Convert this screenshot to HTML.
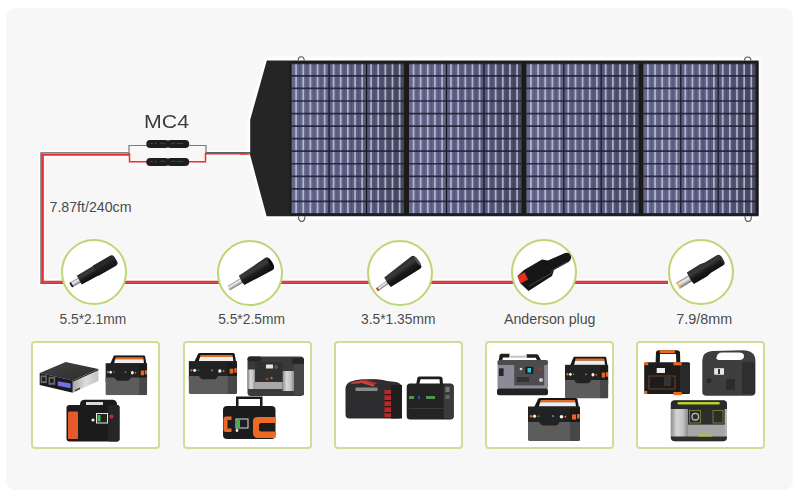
<!DOCTYPE html>
<html><head><meta charset="utf-8">
<style>
*{margin:0;padding:0;box-sizing:border-box}
html,body{width:800px;height:499px;overflow:hidden;background:#fff;font-family:"Liberation Sans",sans-serif}
#bg{position:absolute;left:6px;top:8px;width:787px;height:482px;border-radius:9px;background:#f7f7f7}
.abs{position:absolute}
.lbl{position:absolute;color:#4a4a4a;font-size:14px;white-space:nowrap;line-height:1;text-shadow:0 0 2px #fff}
.circ{position:absolute;width:66px;height:66px;border-radius:50%;border:2px solid #bcd674;background:#fff}
.box{position:absolute;width:129px;height:108px;border:2px solid #cddf97;border-radius:4px;background:#fff}

</style></head>
<body>
<div id="bg"></div>

<!-- wire -->
<svg class="abs" style="left:0;top:0" width="800" height="499" viewBox="0 0 800 499">
  <!-- main loop: dark outer, red inner -->
  <path d="M250 154 H206.5 M129 154 H42.3 V282.3 H668" fill="none" stroke="#fff" stroke-width="6.5" opacity=".75"/>
  <path d="M129 152.85 H41.05 V283.25 H668" fill="none" stroke="#5b6166" stroke-width="1.4"/>
  <path d="M129 154.75 H42.75 V281.75 H668" fill="none" stroke="#ee2d2d" stroke-width="2.2"/>
  <path d="M251 152.6 H205.5" fill="none" stroke="#5b6166" stroke-width="1.1"/>
  <path d="M251 153.85 H205.5" fill="none" stroke="#ee2d2d" stroke-width="1.5"/>
  <!-- split -->
  <path d="M129 153 V145.5 H147 M189 145.5 H206 V153" fill="none" stroke="#7b7b7b" stroke-width="1.2"/>
  <path d="M129.5 153 V161.8 H147 M189 161.8 H205.5 V153" fill="none" stroke="#ee2d2d" stroke-width="1.5"/>
  <!-- MC4 connectors -->
  <g fill="#1e1e1e">
    <path d="M150.2,140 H165.5 L168,140.5 L170.5,140 H185.3 Q189.2,140 189.2,144 Q189.2,148 185.3,148 H170.5 L168,147.5 L165.5,148 H150.2 Q146.3,148 146.3,144 Q146.3,140 150.2,140Z"/>
    <path d="M150.2,158 H165.5 L168,158.5 L170.5,158 H185.3 Q189.2,158 189.2,162 Q189.2,166 185.3,166 H170.5 L168,165.5 L165.5,166 H150.2 Q146.3,166 146.3,162 Q146.3,158 150.2,158Z"/>
  </g>
  <g fill="none" stroke="#6a6a6a" stroke-width=".6" opacity=".8">
    <path d="M150,143.5 h3 M155,143.5 h2 M160,143.3 h5 M171,143.3 h4 M177,143.5 h6"/>
    <path d="M150,161.5 h3 M155,161.5 h2 M160,161.3 h5 M171,161.3 h4 M177,161.5 h6"/>
  </g>
</svg>

<div class="lbl" style="left:143.7px;top:112.5px;font-size:18px;color:#3c3c3c;transform:scaleX(1.185);transform-origin:0 0">MC4</div>
<div class="lbl" style="left:49.5px;top:200px;font-size:14.2px">7.87ft/240cm</div>

<!-- solar panel -->
<svg class="abs" style="left:0;top:0" width="800" height="499" viewBox="0 0 800 499">
  <defs><filter id="bl" x="-5%" y="-20%" width="110%" height="140%"><feGaussianBlur stdDeviation="1.2"/></filter></defs>
  <polygon points="265.5,57 760.5,57 760.5,219.5 265,219.5 247.5,155 247.5,119" fill="#fff" filter="url(#bl)"/>
  <path d="M240 152.6 H252" stroke="#5b6166" stroke-width="1.1"/>
  <path d="M240 153.85 H252" stroke="#ee2d2d" stroke-width="1.5"/>
  <polygon points="266.8,60.5 758.5,60.5 758.5,216.3 266.6,216.3 250.2,155.3 250.2,119.8" fill="#252525"/>
  <g fill="none" stroke="#555" stroke-width="1.1">
   <path d="M298.2,60.5 Q298.2,56.8 301.2,56.8 Q304.2,56.8 304.2,60.5"/>
   <path d="M744.5,60.5 Q744.5,57 747.7,57 Q750.9,57 750.9,60.5"/>
   <path d="M298.5,216.3 Q298.5,221.5 301.7,221.5 Q304.9,221.5 304.9,216.3"/>
   <path d="M745,216.3 Q745,221.5 748.2,221.5 Q751.4,221.5 751.4,216.3"/>
  </g>
  <rect x="289.5" y="61.5" width="469" height="154" fill="#1a1a1a"/>
</svg>


<svg class="abs" style="left:0;top:0" width="800" height="499" viewBox="0 0 800 499">
<defs><linearGradient id="pg" x1="0" y1="0" x2="1" y2="0"><stop offset="0" stop-color="#67698c"/><stop offset=".45" stop-color="#5f6184"/><stop offset=".75" stop-color="#555777"/><stop offset="1" stop-color="#46485d"/></linearGradient></defs>
<rect x="291.6" y="63.0" width="112.4" height="150.9" fill="url(#pg)"/>
<rect x="409" y="63.0" width="112.5" height="150.9" fill="url(#pg)"/>
<rect x="526.4" y="63.0" width="112.2" height="150.9" fill="url(#pg)"/>
<rect x="643.4" y="63.0" width="112.2" height="150.9" fill="url(#pg)"/>
<path d="M299.18 63.0h1V213.9h-1zM306.32 63.0h1V213.9h-1zM313.48 63.0h1V213.9h-1zM320.62 63.0h1V213.9h-1zM336.64 63.0h1V213.9h-1zM343.79 63.0h1V213.9h-1zM350.94 63.0h1V213.9h-1zM358.09 63.0h1V213.9h-1zM374.11 63.0h1V213.9h-1zM381.26 63.0h1V213.9h-1zM388.41 63.0h1V213.9h-1zM395.56 63.0h1V213.9h-1zM416.57 63.0h1V213.9h-1zM423.72 63.0h1V213.9h-1zM430.88 63.0h1V213.9h-1zM438.02 63.0h1V213.9h-1zM454.07 63.0h1V213.9h-1zM461.22 63.0h1V213.9h-1zM468.38 63.0h1V213.9h-1zM475.52 63.0h1V213.9h-1zM491.57 63.0h1V213.9h-1zM498.72 63.0h1V213.9h-1zM505.88 63.0h1V213.9h-1zM513.02 63.0h1V213.9h-1zM533.98 63.0h1V213.9h-1zM541.12 63.0h1V213.9h-1zM548.27 63.0h1V213.9h-1zM555.43 63.0h1V213.9h-1zM571.38 63.0h1V213.9h-1zM578.52 63.0h1V213.9h-1zM585.67 63.0h1V213.9h-1zM592.83 63.0h1V213.9h-1zM608.77 63.0h1V213.9h-1zM615.92 63.0h1V213.9h-1zM623.07 63.0h1V213.9h-1zM630.23 63.0h1V213.9h-1zM650.98 63.0h1V213.9h-1zM658.12 63.0h1V213.9h-1zM665.27 63.0h1V213.9h-1zM672.43 63.0h1V213.9h-1zM688.38 63.0h1V213.9h-1zM695.52 63.0h1V213.9h-1zM702.67 63.0h1V213.9h-1zM709.83 63.0h1V213.9h-1zM725.77 63.0h1V213.9h-1zM732.92 63.0h1V213.9h-1zM740.07 63.0h1V213.9h-1zM747.23 63.0h1V213.9h-1z" fill="#2a2b48" opacity=".25"/>
<path d="M295.25 63.0h1.7V213.9h-1.7zM302.40 63.0h1.7V213.9h-1.7zM309.55 63.0h1.7V213.9h-1.7zM316.70 63.0h1.7V213.9h-1.7zM323.85 63.0h1.7V213.9h-1.7zM332.72 63.0h1.7V213.9h-1.7zM339.87 63.0h1.7V213.9h-1.7zM347.02 63.0h1.7V213.9h-1.7zM354.17 63.0h1.7V213.9h-1.7zM361.32 63.0h1.7V213.9h-1.7zM370.18 63.0h1.7V213.9h-1.7zM377.33 63.0h1.7V213.9h-1.7zM384.48 63.0h1.7V213.9h-1.7zM391.63 63.0h1.7V213.9h-1.7zM398.78 63.0h1.7V213.9h-1.7zM412.65 63.0h1.7V213.9h-1.7zM419.80 63.0h1.7V213.9h-1.7zM426.95 63.0h1.7V213.9h-1.7zM434.10 63.0h1.7V213.9h-1.7zM441.25 63.0h1.7V213.9h-1.7zM450.15 63.0h1.7V213.9h-1.7zM457.30 63.0h1.7V213.9h-1.7zM464.45 63.0h1.7V213.9h-1.7zM471.60 63.0h1.7V213.9h-1.7zM478.75 63.0h1.7V213.9h-1.7zM487.65 63.0h1.7V213.9h-1.7zM494.80 63.0h1.7V213.9h-1.7zM501.95 63.0h1.7V213.9h-1.7zM509.10 63.0h1.7V213.9h-1.7zM516.25 63.0h1.7V213.9h-1.7zM530.05 63.0h1.7V213.9h-1.7zM537.20 63.0h1.7V213.9h-1.7zM544.35 63.0h1.7V213.9h-1.7zM551.50 63.0h1.7V213.9h-1.7zM558.65 63.0h1.7V213.9h-1.7zM567.45 63.0h1.7V213.9h-1.7zM574.60 63.0h1.7V213.9h-1.7zM581.75 63.0h1.7V213.9h-1.7zM588.90 63.0h1.7V213.9h-1.7zM596.05 63.0h1.7V213.9h-1.7zM604.85 63.0h1.7V213.9h-1.7zM612.00 63.0h1.7V213.9h-1.7zM619.15 63.0h1.7V213.9h-1.7zM626.30 63.0h1.7V213.9h-1.7zM633.45 63.0h1.7V213.9h-1.7zM647.05 63.0h1.7V213.9h-1.7zM654.20 63.0h1.7V213.9h-1.7zM661.35 63.0h1.7V213.9h-1.7zM668.50 63.0h1.7V213.9h-1.7zM675.65 63.0h1.7V213.9h-1.7zM684.45 63.0h1.7V213.9h-1.7zM691.60 63.0h1.7V213.9h-1.7zM698.75 63.0h1.7V213.9h-1.7zM705.90 63.0h1.7V213.9h-1.7zM713.05 63.0h1.7V213.9h-1.7zM721.85 63.0h1.7V213.9h-1.7zM729.00 63.0h1.7V213.9h-1.7zM736.15 63.0h1.7V213.9h-1.7zM743.30 63.0h1.7V213.9h-1.7zM750.45 63.0h1.7V213.9h-1.7z" fill="#c8cae6" opacity=".8"/>
<path d="M328.47 63.0h1.2V213.9h-1.2zM365.93 63.0h1.2V213.9h-1.2zM445.90 63.0h1.2V213.9h-1.2zM483.40 63.0h1.2V213.9h-1.2zM563.20 63.0h1.2V213.9h-1.2zM600.60 63.0h1.2V213.9h-1.2zM680.20 63.0h1.2V213.9h-1.2zM717.60 63.0h1.2V213.9h-1.2z" fill="#131420"/>
<path d="M291.6 62.50h112.4v1.7h-112.4zM291.6 75.05h112.4v1.7h-112.4zM291.6 87.60h112.4v1.7h-112.4zM291.6 100.15h112.4v1.7h-112.4zM291.6 112.70h112.4v1.7h-112.4zM291.6 125.25h112.4v1.7h-112.4zM291.6 137.80h112.4v1.7h-112.4zM291.6 150.35h112.4v1.7h-112.4zM291.6 162.90h112.4v1.7h-112.4zM291.6 175.45h112.4v1.7h-112.4zM291.6 188.00h112.4v1.7h-112.4zM291.6 200.55h112.4v1.7h-112.4zM291.6 213.10h112.4v1.7h-112.4zM409 62.50h112.5v1.7h-112.5zM409 75.05h112.5v1.7h-112.5zM409 87.60h112.5v1.7h-112.5zM409 100.15h112.5v1.7h-112.5zM409 112.70h112.5v1.7h-112.5zM409 125.25h112.5v1.7h-112.5zM409 137.80h112.5v1.7h-112.5zM409 150.35h112.5v1.7h-112.5zM409 162.90h112.5v1.7h-112.5zM409 175.45h112.5v1.7h-112.5zM409 188.00h112.5v1.7h-112.5zM409 200.55h112.5v1.7h-112.5zM409 213.10h112.5v1.7h-112.5zM526.4 62.50h112.2v1.7h-112.2zM526.4 75.05h112.2v1.7h-112.2zM526.4 87.60h112.2v1.7h-112.2zM526.4 100.15h112.2v1.7h-112.2zM526.4 112.70h112.2v1.7h-112.2zM526.4 125.25h112.2v1.7h-112.2zM526.4 137.80h112.2v1.7h-112.2zM526.4 150.35h112.2v1.7h-112.2zM526.4 162.90h112.2v1.7h-112.2zM526.4 175.45h112.2v1.7h-112.2zM526.4 188.00h112.2v1.7h-112.2zM526.4 200.55h112.2v1.7h-112.2zM526.4 213.10h112.2v1.7h-112.2zM643.4 62.50h112.2v1.7h-112.2zM643.4 75.05h112.2v1.7h-112.2zM643.4 87.60h112.2v1.7h-112.2zM643.4 100.15h112.2v1.7h-112.2zM643.4 112.70h112.2v1.7h-112.2zM643.4 125.25h112.2v1.7h-112.2zM643.4 137.80h112.2v1.7h-112.2zM643.4 150.35h112.2v1.7h-112.2zM643.4 162.90h112.2v1.7h-112.2zM643.4 175.45h112.2v1.7h-112.2zM643.4 188.00h112.2v1.7h-112.2zM643.4 200.55h112.2v1.7h-112.2zM643.4 213.10h112.2v1.7h-112.2z" fill="#1e1f34" opacity=".88"/>
</svg>

<!-- circles -->
<div class="circ" style="left:60.8px;top:239px"></div>
<div class="circ" style="left:217px;top:239.5px"></div>
<div class="circ" style="left:367px;top:239.5px"></div>
<div class="circ" style="left:510.5px;top:239px"></div>
<div class="circ" style="left:667.5px;top:239px"></div>


<!-- connectors -->
<svg class="abs" style="left:0;top:0" width="800" height="499" viewBox="0 0 800 499">
 <defs>
  <linearGradient id="metal" x1="0" y1="0" x2="0" y2="1">
   <stop offset="0" stop-color="#8a8a8a"/><stop offset=".35" stop-color="#f2f2f2"/><stop offset=".7" stop-color="#b5b5b5"/><stop offset="1" stop-color="#6a6a6a"/>
  </linearGradient>
  <linearGradient id="blk" x1="0" y1="0" x2="0" y2="1">
   <stop offset="0" stop-color="#2c2c2c"/><stop offset=".3" stop-color="#3a3a3a"/><stop offset=".6" stop-color="#1a1a1a"/><stop offset="1" stop-color="#0e0e0e"/>
  </linearGradient>
  <pattern id="ridge" width="3" height="20" patternUnits="userSpaceOnUse">
   <rect width="3" height="20" fill="#2a2a2a"/><rect width="1.3" height="20" fill="#0c0c0c"/>
  </pattern>
 </defs>
 <!-- c1 -->
 <g transform="translate(70.6,285.2) rotate(-30)">
  <rect x="1.2" y="-2.7" width="10" height="5.4" fill="url(#metal)"/>
  <rect x="0" y="-2.7" width="1.8" height="5.4" rx=".8" fill="#151515"/>
  <path d="M10 -5 L30 -5.5 L30 5.5 L10 5 Z" fill="url(#blk)"/>
  <path d="M29 -5.8 H49 Q52 -5.8 52 -2.5 V2.5 Q52 5.8 49 5.8 H29 Z" fill="url(#ridge)"/>
  <path d="M29 -5.8 H49 Q52 -5.8 52 -2.5 V2.5 Q52 5.8 49 5.8 H29 Z" fill="url(#blk)" opacity=".45"/>
 </g>
 <!-- c2 -->
 <g transform="translate(228.3,288.4) rotate(-31)">
  <rect x="0" y="-2.6" width="17" height="5.2" rx="1.5" fill="url(#metal)"/>
  <path d="M15.5 -5.3 L47.5 -7.2 Q50.5 -7.2 50.5 -3.5 V3.5 Q50.5 7.2 47.5 7.2 L15.5 5.3 Q14.5 0 15.5 -5.3Z" fill="url(#blk)"/>
  <ellipse cx="49.6" cy="0" rx="1.5" ry="5.2" fill="#080808"/>
 </g>
 <!-- c3 -->
 <g transform="translate(376.9,289.8) rotate(-35)">
  <rect x="0" y="-1.8" width="14" height="3.6" fill="url(#metal)"/>
  <rect x="0" y="-1.8" width="1.6" height="3.6" fill="#c0302a"/>
  <path d="M13 -5.8 L47.5 -7.6 Q50.5 -7.6 50.5 -3.5 V3.5 Q50.5 7.6 47.5 7.6 L13 5.8 Q12 0 13 -5.8Z" fill="url(#blk)"/>
  <ellipse cx="49.8" cy="0" rx="1.3" ry="5.4" fill="#555"/>
 </g>
 <!-- c4 anderson -->
 <path d="M520.5,283.5 L517.5,276 L524,270 L542,259.5 L548,260.5 L565,253 Q569.5,251.5 571,256.5 Q571.5,260.5 568.5,262 L554,270 L552,276 L528.5,291 Z" fill="#161616"/>
 <path d="M529,286 L551,273.5 L552.5,270 L567,262" fill="none" stroke="#555" stroke-width=".9" opacity=".8"/>
 <path d="M517.5,276 L524.5,272.2 L528,279.5 L520.5,283.5 Z" fill="#e2321f"/>
 <!-- c5 -->
 <g transform="translate(677.9,285.7) rotate(-31)">
  <rect x="0" y="-3.5" width="16" height="7" fill="url(#metal)"/>
  <rect x="0" y="-3.5" width="1.6" height="7" fill="#e7c623"/>
  <path d="M14.5 -6.8 L30 -7 L35 -6 L49 -6 Q52 -6 52 -2.8 V2.8 Q52 6 49 6 L35 6 L30 7 L14.5 6.8 Q13.5 0 14.5 -6.8Z" fill="url(#blk)"/>
  <ellipse cx="51.2" cy="0" rx="1.2" ry="4.5" fill="#333"/>
 </g>
</svg>

<div class="lbl" style="left:59.5px;top:312.8px;font-size:13.8px">5.5*2.1mm</div>
<div class="lbl" style="left:218.2px;top:312.8px;font-size:13.8px">5.5*2.5mm</div>
<div class="lbl" style="left:361px;top:312.8px;font-size:13.8px">3.5*1.35mm</div>
<div class="lbl" style="left:504px;top:312.4px;font-size:14.2px">Anderson plug</div>
<div class="lbl" style="left:676.3px;top:312.2px;font-size:14.4px">7.9/8mm</div>

<!-- boxes -->
<div class="box" style="left:31px;top:340.5px"></div>
<div class="box" style="left:182.5px;top:341px"></div>
<div class="box" style="left:334px;top:341px"></div>
<div class="box" style="left:485px;top:341px"></div>
<div class="box" style="left:636px;top:340.5px"></div>


<!-- products -->
<svg class="abs" style="left:0;top:0" width="800" height="499" viewBox="0 0 800 499">
 <defs>
  <symbol id="st1" viewBox="0 0 52 43" preserveAspectRatio="none">
   <path d="M6,9.5 L10,1.2 Q10.6,0 12,0 H47.5 Q49,0 49.4,1.2 L51,9.5 Z" fill="#161616"/>
   <path d="M12.8,2 H47 L47.4,4.3 H12.2 Z" fill="#ea6a22"/>
   <path d="M12.2,4.3 H47.4 L48,8.6 H10.8 Z" fill="#eeeeee"/>
   <rect x="0" y="8.5" width="52" height="20" fill="#222"/>
   <path d="M0,24 H11 Q13,27.5 16,27.5 H27 Q30,27.5 31.5,24 H52 V41.5 Q52,43 50,43 H2 Q0,43 0,41.5 Z" fill="#5c5c5c"/>
   <rect x="42" y="10" width="10" height="33" fill="#000" opacity=".22"/>
   <circle cx="3" cy="18.2" r="1.2" fill="#e0702a"/>
   <circle cx="6.5" cy="18.2" r="1.6" fill="#f4f4f4"/>
   <circle cx="10.5" cy="18.2" r="1" fill="#3a8a3a"/>
   <circle cx="25" cy="18.2" r="1.1" fill="#3a8ad0"/>
   <circle cx="33.5" cy="18.8" r="1.8" fill="#f4f4f4"/>
   <circle cx="37.5" cy="18.8" r="1" fill="#e0702a"/>
   <rect x="44" y="16.5" width="4" height="5" fill="#e8642a"/>
   <rect x="49" y="16" width="2.6" height="4.6" fill="#e8642a"/>
  </symbol>
 </defs>
 <!-- Box1 A flat -->
 <defs><linearGradient id="b1top" x1="0" y1="0" x2="1" y2="1"><stop offset="0" stop-color="#454545"/><stop offset="1" stop-color="#2a2a2a"/></linearGradient>
 <linearGradient id="b1side" x1="0" y1="0" x2="1" y2="0"><stop offset="0" stop-color="#a8a8a8"/><stop offset=".5" stop-color="#dcdcdc"/><stop offset="1" stop-color="#c4c4c4"/></linearGradient></defs>
 <polygon points="39.7,373 65.7,361.9 98.4,369 72.8,380.5" fill="url(#b1top)"/>
 <polygon points="39.7,373 72.8,380.5 72.8,392.8 39.7,384.9" fill="#1a1a1a"/>
 <polygon points="72.8,380.5 98.4,369 98.4,381 72.8,392.8" fill="url(#b1side)"/>
 <polygon points="72.8,380.5 98.4,369 98.4,370.2 72.8,381.8" fill="#222"/>
 <rect x="40.6" y="375.4" width="6.2" height="7.7" fill="#6a6a6a"/><rect x="42" y="377.2" width="3.4" height="4" fill="#1e1e1e"/>
 <rect x="48.5" y="376.8" width="6.7" height="8" fill="#6a6a6a"/><rect x="50" y="378.6" width="3.6" height="4.2" fill="#1e1e1e"/>
 <polygon points="57.8,381.2 70.6,383.6 70.6,388.2 57.8,385.8" fill="#7272e6"/>
 <polygon points="75,390 80,387.6 80,389 75,391.5" fill="#333"/>
 <!-- Box1 B -->
 <use href="#st1" x="105.4" y="355.3" width="41.8" height="39.9"/>
 <!-- Box1 C -->
 <path d="M80,405 Q80,400 84,399.8 L113,399.8 Q117,400 117,405 Z" fill="#1a1a1a"/>
 <rect x="86" y="402" width="17" height="5" fill="#d8d8d8"/>
 <rect x="66.5" y="405" width="53" height="36.5" rx="3" fill="#1b1b1b"/>
 <rect x="108" y="405" width="11.5" height="36.5" rx="2" fill="#262626"/>
 <rect x="68" y="411.5" width="10" height="27.5" rx="1" fill="#e6592a"/>
 <rect x="96" y="413" width="12" height="10.5" fill="#e8e8e8"/>
 <rect x="97" y="414" width="10" height="8.5" fill="#222"/>
 <rect x="97.5" y="415" width="3" height="6.5" fill="#38c048"/>
 <circle cx="111.5" cy="416.5" r="2" fill="#d02040"/>
 <circle cx="93" cy="420" r="1.6" fill="#eee"/>
 <!-- Box2 A -->
 <use href="#st1" x="188.6" y="353" width="48.5" height="41"/>
 <!-- Box2 B -->
 <rect x="247.5" y="356.5" width="56.5" height="39.5" rx="3.5" fill="#3a3a3a"/>
 <rect x="247.5" y="356.5" width="14" height="5" rx="2" fill="#262626"/>
 <rect x="292" y="358" width="12" height="6" rx="2" fill="#262626"/>
 <defs><linearGradient id="silv" x1="0" y1="0" x2="1" y2="0"><stop offset="0" stop-color="#8e8e8e"/><stop offset=".35" stop-color="#d6d6d6"/><stop offset=".7" stop-color="#c4c4c4"/><stop offset="1" stop-color="#8a8a8a"/></linearGradient></defs>
 <rect x="248" y="369.5" width="7" height="19.5" fill="url(#silv)"/>
 <rect x="282.5" y="371" width="11.5" height="20" fill="url(#silv)"/>
 <rect x="255" y="382" width="27.5" height="7" fill="#a8a8a8"/>
 <rect x="255" y="362" width="27.5" height="20" fill="#303030"/>
 <rect x="266" y="364.5" width="7" height="4" fill="#e4e4e4"/>
 <circle cx="276" cy="367" r="2" fill="#555"/>
 <circle cx="267" cy="379" r="1.4" fill="#c03030"/><circle cx="271.5" cy="378" r="1.2" fill="#5a9a3a"/>
 <rect x="294" y="364" width="10" height="31" fill="#474747"/>
 <!-- Box2 C -->
 <path d="M236,410 V396.5 H262.5 V410 H260 V399 H238.5 V410 Z" fill="#1a1a1a"/>
 <rect x="223" y="406" width="52.5" height="33" rx="4" fill="#1c1c1c"/>
 <path d="M231.5,416.5 H226 Q223.5,416.5 223.5,419 V429.5 Q223.5,432 226,432 H231.5 V428.5 H227.5 V420 H231.5 Z" fill="#ec6a26"/>
 <path d="M275.5,417 H258 Q253,417 253,421 V433 Q253,438 258,438 H275.5 V431.5 H261 Q259,431.5 259,429.5 V425 Q259,423 261,423 H275.5 Z" fill="#ec6a26"/>
 <rect x="235.5" y="418.5" width="13" height="10" fill="#ddd"/>
 <rect x="236.5" y="419.5" width="11" height="8" fill="#1e1e1e"/>
 <rect x="237" y="420" width="3" height="7" fill="#30c040"/>
 <circle cx="237" cy="430.5" r="1.4" fill="#eee"/>
 <!-- Box3 A -->
 <path d="M345.5,388 Q346,383 351,381.5 Q356,379.5 362,379.5 L375,379.3 Q382,379.5 387,381 L396,382 Q401,383 402,387 V414.5 Q402,418.5 398,418.5 H349.5 Q345.5,418.5 345.5,414.5 Z" fill="#2d2d2f"/>
 <path d="M352,381.5 Q358,379.5 363,379.5 L376,379.4 Q383,379.6 388,381.5 L388,384 H352 Z" fill="#3a2a32"/>
 <path d="M350.5,384 L352,382 Q357,380.5 362,381 L360,383.5 Z" fill="#c23a36"/>
 <path d="M358,381.8 L362,380.2 L375,385 L373,386.4 Z" fill="#d04a3a"/>
 <path d="M361,381 L365,379.8 L377,383.2 L375,384.5 Z" fill="#b8343a"/>
 <rect x="391" y="385" width="11" height="33.5" fill="#1f1f20"/>
 <rect x="355.5" y="387.5" width="22" height="3.5" fill="#8a8a8a"/>
 <rect x="384.5" y="390" width="6.5" height="27" fill="#b82a2a"/>
 <rect x="384.5" y="394" width="6.5" height="1.3" fill="#3a1010"/><rect x="384.5" y="400" width="6.5" height="1.3" fill="#3a1010"/><rect x="384.5" y="406" width="6.5" height="1.3" fill="#3a1010"/><rect x="384.5" y="412" width="6.5" height="1.3" fill="#3a1010"/>
 <!-- Box3 B -->
 <path d="M416,385 L417.5,377.5 Q418,376.6 420,376.6 L440,376.4 Q442,376.5 442.5,378 L443,385 H440 L439.5,379.3 H420.5 L419,385 Z" fill="#1c1c1c"/>
 <rect x="406.7" y="383.5" width="47" height="36" rx="3.5" fill="#232323"/>
 <rect x="443.7" y="384.5" width="10" height="34" rx="2" fill="#3a3a3a"/>
 <rect x="445.5" y="387" width="4" height="5" fill="#777"/><rect x="445.5" y="395" width="4" height="4" fill="#666"/>
 <rect x="409" y="396" width="5" height="3" fill="#5ab05a" opacity=".8"/>
 <rect x="418" y="396" width="2" height="3" fill="#3a5ad0" opacity=".8"/>
 <rect x="426" y="396" width="9" height="3" fill="#5ab05a" opacity=".8"/>
 <rect x="409" y="408" width="34" height="1" fill="#3a3a3a"/>
 <!-- Box4 A -->
 <path d="M500.3,362 L501.3,355.6 H509.5 M526.5,356 H536.8 L540,362" fill="none" stroke="#1e1e1e" stroke-width="3.6" stroke-linejoin="round"/>
 <rect x="509" y="355.7" width="18" height="2" fill="#c4c4c4"/>
 <rect x="497.5" y="360" width="50.5" height="30" rx="3" fill="#8b8b97"/>
 <rect x="497.5" y="360" width="50.5" height="5" rx="2" fill="#4c4c4c"/>
 <rect x="514.2" y="364" width="30" height="21.5" fill="#4d4d4f"/>
 <rect x="525.3" y="366.8" width="8" height="6.8" fill="#1a1a1a"/>
 <rect x="527.5" y="368" width="3.5" height="4.5" fill="#30c0d0"/>
 <rect x="499" y="368.3" width="4.6" height="7.7" fill="#262626"/>
 <circle cx="541" cy="380" r="2" fill="#ccc"/><circle cx="521" cy="369" r="1.3" fill="#ddd"/><circle cx="539" cy="368.5" r="1.3" fill="#c03030"/>
 <rect x="517" y="377" width="12" height="5" fill="#333"/>
 <rect x="497" y="388.5" width="51" height="6.7" rx="2" fill="#222"/>
 <!-- Box4 B, C -->
 <use href="#st1" x="565" y="356.5" width="43.4" height="42"/>
 <use href="#st1" x="528" y="398" width="52" height="43"/>
 <!-- Box5 A -->
 <path d="M655.6,362.7 L656,352 Q656.5,350.2 659,350.2 H677 Q679.5,350.2 680,352 L680.3,362.7 H676.3 L676,354 H660 L659.8,362.7 Z" fill="#1a1a1a"/>
 <rect x="659.8" y="350.2" width="15" height="3" fill="#ee6a22"/>
 <rect x="644.2" y="362.2" width="45.8" height="31.8" rx="1.5" fill="#1c1c1c"/>
 <rect x="680" y="364" width="10" height="29" fill="#2a2a2a"/>
 <rect x="644.2" y="362.2" width="4" height="3" fill="#ee6a22"/><rect x="673.4" y="362.2" width="8.3" height="3.1" fill="#ee6a22"/>
 <rect x="644.2" y="391" width="3" height="3" fill="#ee6a22"/><rect x="673.4" y="392" width="8.3" height="3.2" fill="#ee6a22"/>
 <rect x="656.7" y="368" width="8.3" height="5" fill="#eee"/>
 <rect x="649" y="376" width="26" height="13" fill="none" stroke="#8a4a20" stroke-width=".8"/>
 <rect x="664" y="377" width="7" height="9" fill="#333"/>
 <!-- Box5 B -->
 <path d="M702.3,360 Q702.5,352 712,351 L743,350.3 Q755,350.8 755.4,360 V392 Q755.4,395.8 751,395.8 H706.5 Q702.3,395.8 702.3,392 Z" fill="#3e3e3e"/>
 <path d="M716.4,358 Q717,352.5 722,352.5 H739 Q744,352.5 744,356 Q744,360 739,360 H720 Q716.4,360 716.4,358 Z" fill="#fff"/>
 <rect x="742" y="362" width="13" height="32" rx="2" fill="#2e2e2e"/>
 <rect x="714.2" y="368.2" width="9.8" height="6.5" fill="#e8e8e8"/>
 <rect x="718" y="369" width="2" height="5" fill="#333"/>
 <circle cx="709" cy="380.5" r="2.6" fill="#2a2a2a"/>
 <rect x="726" y="379" width="9" height="11" fill="#2c2c2c"/>
 <!-- Box5 C -->
 <rect x="670.8" y="400.3" width="56.2" height="40.9" rx="4" fill="#b4b4b4"/>
 <rect x="670.8" y="409" width="17.2" height="28" fill="url(#silv)"/>
 <path d="M670.8,409 V404 Q670.8,400.3 675,400.3 H723 Q727,400.3 727,404 V409 Z" fill="#2a2a2a"/>
 <rect x="677.5" y="402" width="42.3" height="2.6" rx="1.3" fill="#b8d030"/>
 <rect x="688" y="409" width="36.7" height="15.8" fill="#2d2d2d"/>
 <rect x="689.5" y="410.5" width="11" height="12.5" fill="none" stroke="#8a9a30" stroke-width=".7"/>
 <rect x="713" y="410.5" width="10" height="12.5" fill="none" stroke="#8a9a30" stroke-width=".7"/>
 <circle cx="695.3" cy="416.7" r="3.3" fill="none" stroke="#bbb" stroke-width="1.3"/>
 <rect x="688" y="424.8" width="36.7" height="11.6" fill="#a6a6a6"/>
 <path d="M670.8,436.4 H727 V437.5 Q727,441.2 723,441.2 H675 Q670.8,441.2 670.8,437.5 Z" fill="#2e2e2e"/>
 <rect x="698" y="434.5" width="14" height="2" fill="#a8c830"/>
</svg>

</body></html>
